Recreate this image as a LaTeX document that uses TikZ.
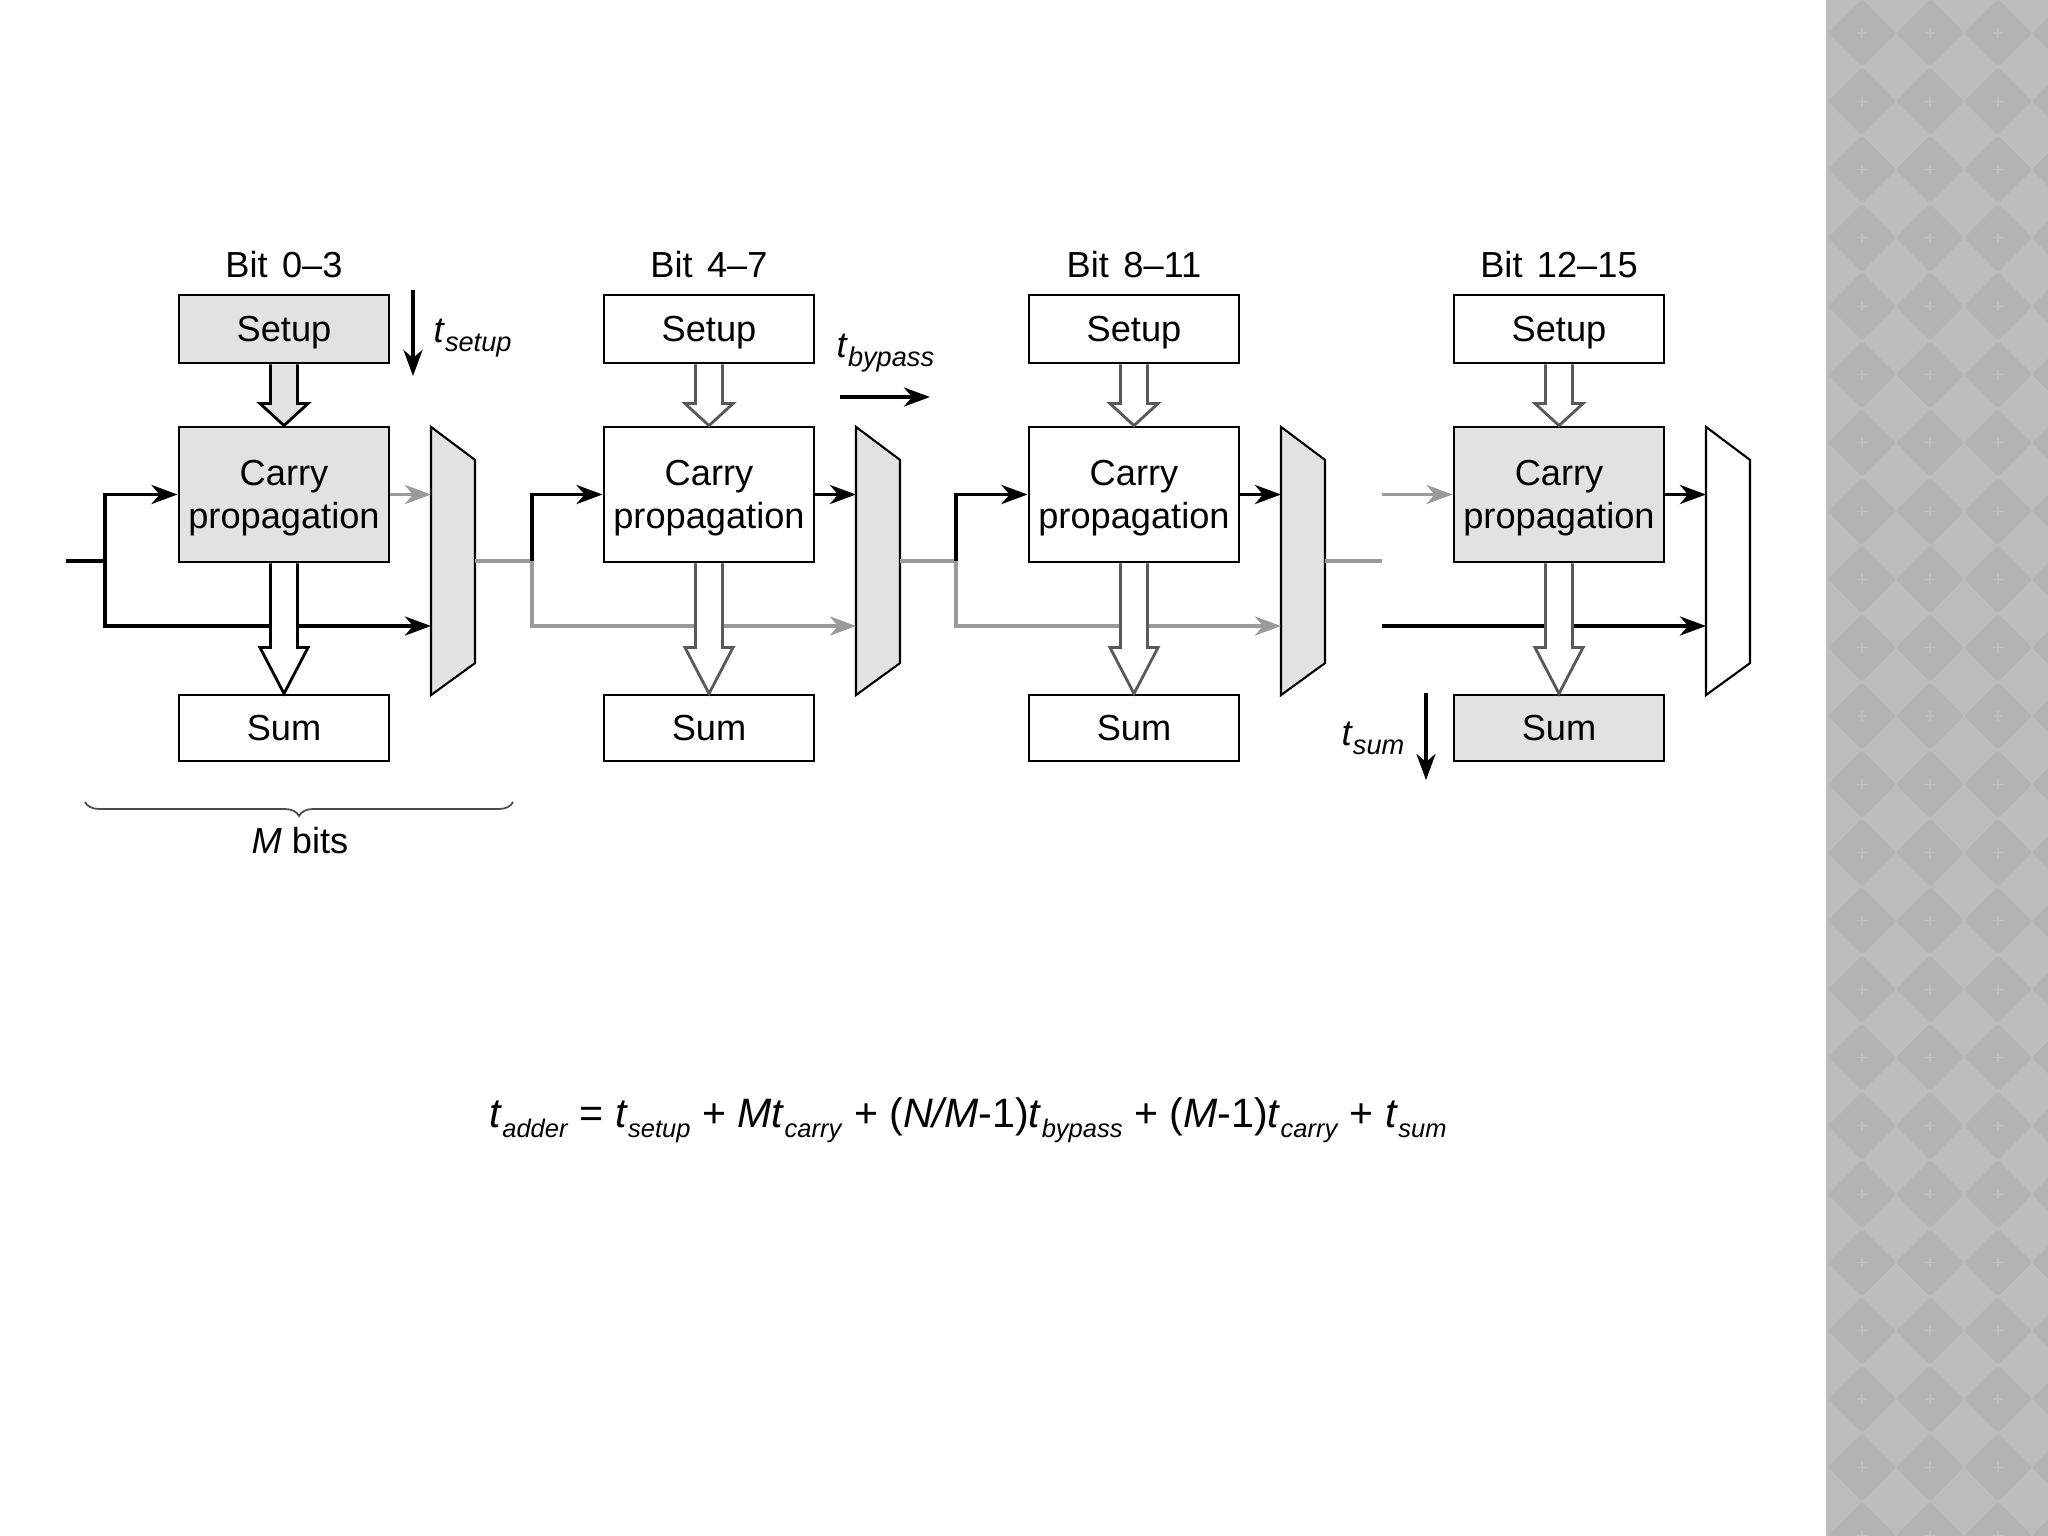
\documentclass[tikz,border=0pt]{standalone}
\usepackage{fontspec}
\setmainfont{Liberation Sans}
\usetikzlibrary{calc, arrows.meta, decorations.pathreplacing}
\definecolor{shade}{HTML}{E2E2E2}
\definecolor{wire}{HTML}{9A9A9A}
\definecolor{strip}{HTML}{BCBCBC}
\definecolor{tile}{HTML}{B3B3B3}
\definecolor{tick}{HTML}{BEBEBE}
\newcommand{\tsub}[2][0.75]{\textit{t}\raisebox{-0.25em}{\scalebox{#1}{\textit{#2}}}}

\begin{document}
\begin{tikzpicture}[x=0.01cm, y=-0.01cm,
    lbl/.style={font=\fontsize{10.3}{12.4}\selectfont, inner sep=0pt},
    blk/.style={lbl, draw, line width=0.8pt, minimum width=2.1cm, align=center},
    tip/.style={-{Stealth[length=0.26cm, width=0.19cm, inset=0.08cm]}},
    wirek/.style={line width=1.1pt, black},
    wireg/.style={line width=1.1pt, wire},
    muxspot/.style={minimum width=0.44cm, minimum height=2.68cm, inner sep=0pt, outer sep=0pt}]
  \useasboundingbox (0,0) rectangle (2048,1536);
  \fill[white] (0,0) rectangle (2048,1536);
  % background strip
  \fill[strip] (1826,0) rectangle (2048,1536);
  \begin{scope}
    \clip (1826,0) rectangle (2048,1536);
    \foreach \col in {0,...,3}
      \foreach \row in {0,...,22} {
        \fill[tile, rounded corners=0.03cm] (1862+68*\col, 33+68.3*\row) +(0,-34) -- +(34,0) -- +(0,34) -- +(-34,0) -- cycle;
        \draw[tick, line width=0.3pt] (1862+68*\col, 33+68.3*\row) +(-5,0) -- +(5,0) +(0,-5) -- +(0,5);
      }
  \end{scope}

  % the four 4-bit blocks
  \foreach \i/\fs/\fc/\fu/\fm/\bits in {0/shade/shade/white/shade/0–3, 1/white/white/white/shade/4–7, 2/white/white/white/shade/8–11, 3/white/shade/shade/white/12–15} {
    \node[lbl, anchor=base] (b\i) at (284+425*\i, 277) {Bit\hspace{0.12em} \bits};
    \node[blk, fill=\fs, minimum height=0.68cm, text depth=0pt] (s\i) at (284+425*\i, 329) {Setup};
    \node[blk, fill=\fc, minimum height=1.35cm, text depth=0pt] (c\i) at (284+425*\i, 494.5) {Carry\\propagation};
    \node[blk, fill=\fu, minimum height=0.66cm] (u\i) at (284+425*\i, 728) {Sum};
    \node[muxspot] (m\i) at (453+425*\i, 561) {};
    \filldraw[fill=\fm, line width=0.6pt] (m\i.north west) -- ($(m\i.north east)+(0,33)$) -- ($(m\i.south east)+(0,-32)$) -- (m\i.south west) -- cycle;
  }

  \coordinate (in) at (66,561);
  \coordinate (by) at (0,626);
  \coordinate (j0) at (105,561);
  \coordinate (j1) at (532,561);
  \coordinate (j2) at (956,561);
  \coordinate (j3) at (1382,561);

  % carry and bypass wires
  \draw[wirek] (in) -- (j0);
  \draw[wirek, tip] (j0) |- (c0.west);
  \draw[wirek, tip] (j0) |- (m0.west |- by);
  \draw[wireg, tip] (c0.east) -- (c0.east -| m0.west);

  \draw[wireg] (m0.east) -- (j1);
  \draw[wirek, tip] (j1) |- (c1.west);
  \draw[wireg, tip] (j1) |- (m1.west |- by);
  \draw[wirek, tip] (c1.east) -- (c1.east -| m1.west);

  \draw[wireg] (m1.east) -- (j2);
  \draw[wirek, tip] (j2) |- (c2.west);
  \draw[wireg, tip] (j2) |- (m2.west |- by);
  \draw[wirek, tip] (c2.east) -- (c2.east -| m2.west);

  \draw[wireg] (m2.east) -- (j3);
  \draw[wireg, tip] (j3 |- c3.west) -- (c3.west);
  \draw[wirek, tip] (j3 |- by) -- (m3.west |- by);
  \draw[wirek, tip] (c3.east) -- (c3.east -| m3.west);

  % wide arrows setup -> carry -> sum
  \foreach \i/\fa/\ln in {0/shade/black, 1/white/black!65, 2/white/black!65, 3/white/black!65} {
    \filldraw[fill=\fa, draw=\ln, line width=0.8pt] ($(s\i.south)+(-13.5,0)$) -- ($(c\i.north)+(-13.5,-22)$) -- ($(c\i.north)+(-24,-22)$) -- (c\i.north) -- ($(c\i.north)+(24,-22)$) -- ($(c\i.north)+(13.5,-22)$) -- ($(s\i.south)+(13.5,0)$);
    \filldraw[fill=white, draw=\ln, line width=0.8pt] ($(c\i.south)+(-13.5,0)$) -- ($(u\i.north)+(-13.5,-46)$) -- ($(u\i.north)+(-24,-46)$) -- (u\i.north) -- ($(u\i.north)+(24,-46)$) -- ($(u\i.north)+(13.5,-46)$) -- ($(c\i.south)+(13.5,0)$);
  }

  % delays
  \coordinate (ts1) at (413,290); \coordinate (ts2) at (413,376);
  \draw[wirek, tip] (ts1) -- (ts2);
  \node[lbl, anchor=base west] (tsl) at (433,342) {\tsub{setup}};
  \coordinate (tb1) at (840,397); \coordinate (tb2) at (930,397);
  \draw[wirek, tip] (tb1) -- (tb2);
  \node[lbl, anchor=base west] (tbl) at (836,357) {\tsub{bypass}};
  \coordinate (tu1) at (1426,693); \coordinate (tu2) at (1426,780);
  \draw[wirek, tip] (tu1) -- (tu2);
  \node[lbl, anchor=base east] (tul) at (1405,745) {\tsub{sum}};

  % block width
  \coordinate (bl) at (85,802); \coordinate (br) at (513,802);
  \draw[decorate, decoration={brace, mirror, amplitude=0.14cm}, line width=0.5pt, black!70] (bl) -- (br);
  \node[lbl, anchor=base] (mb) at (300,853) {\textit{M} bits};

  \node[font=\fontsize{11.7}{14}\selectfont, anchor=base] (eq) at (968,1127) {\tsub[0.62]{adder} = \tsub[0.62]{setup} + \textit{M}\tsub[0.62]{carry} + (\textit{N/M}-1)\tsub[0.62]{bypass} + (\textit{M}-1)\tsub[0.62]{carry} + \tsub[0.62]{sum}};
\end{tikzpicture}
\end{document}
